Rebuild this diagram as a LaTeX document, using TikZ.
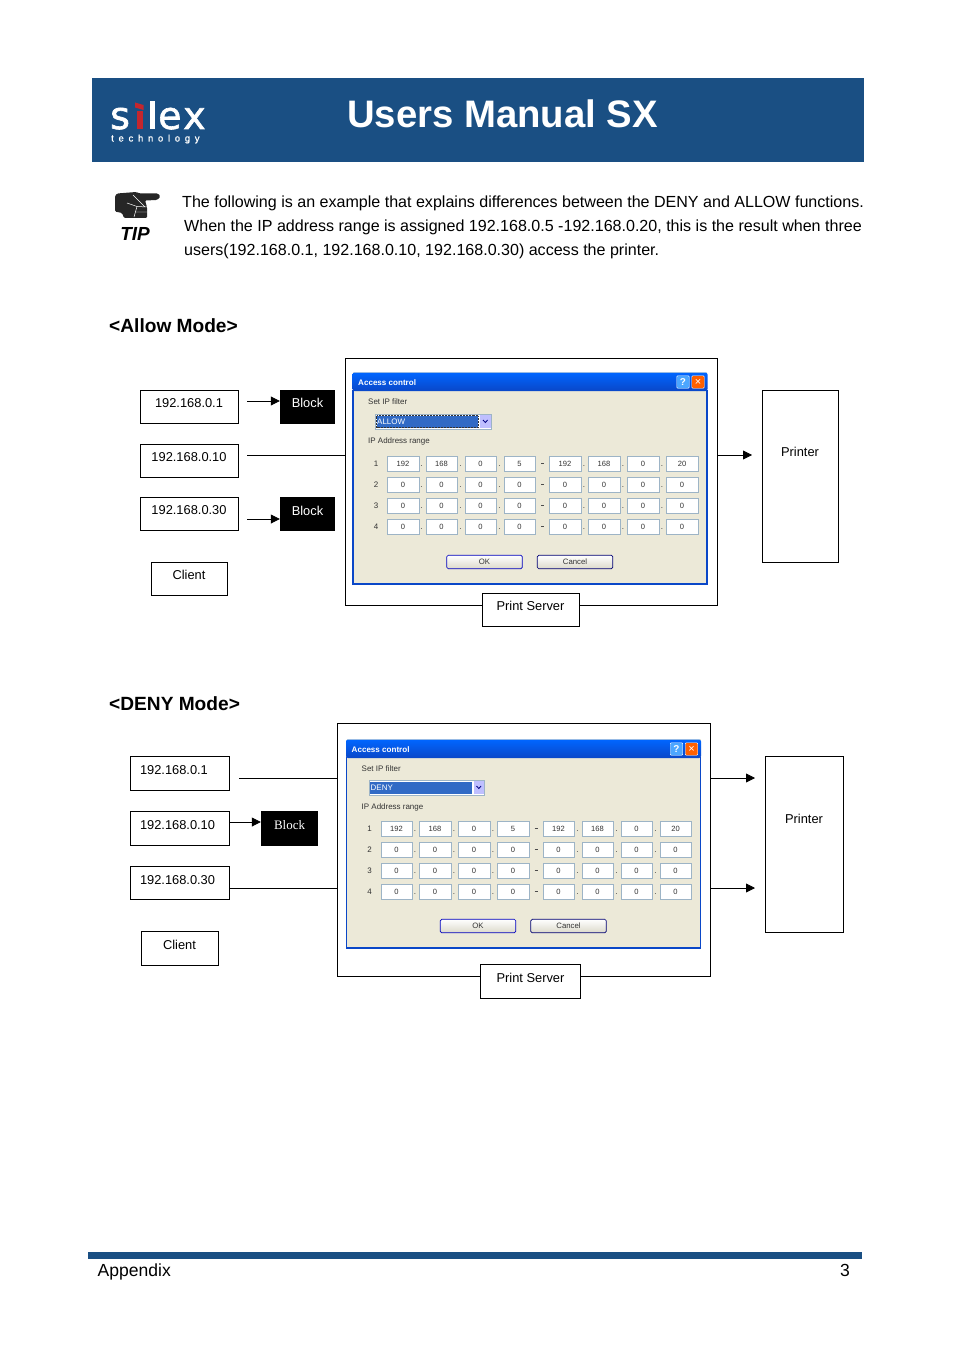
\documentclass[tikz,border=0pt]{standalone}
\usepackage{fontspec}
\setmainfont{Liberation Sans}
\newfontfamily\logofont[FakeBold=1.6]{DejaVu Sans}
\newfontfamily\logosmall[LetterSpace=50,FakeBold=0.8]{Liberation Sans}
\usetikzlibrary{arrows.meta}
\definecolor{bandblue}{HTML}{1A4F83}
\definecolor{logored}{HTML}{C4262E}
\definecolor{dlgface}{HTML}{ECE9D8}
\definecolor{dlgblue}{HTML}{0A47C8}
\definecolor{fieldline}{HTML}{9DB4C6}
\definecolor{selblue}{HTML}{316AC5}
\newcommand{\fsize}[1]{\fontsize{#1}{#1}\selectfont}
\tikzset{
  textline/.style={anchor=base west,inner sep=0pt,font=\fsize{16.12}},
  heading/.style={anchor=base west,inner sep=0pt,font=\fsize{19.2}\bfseries},
  netbox/.style={draw,fill=white,line width=0.8pt,inner sep=0pt,font=\fsize{12.9},text height=10pt,text depth=8pt},
  ipbox/.style={netbox,text width=79bp,align=left},
  blockbox/.style={fill=black,text=white,inner sep=0pt,minimum width=55bp,minimum height=34bp,font=\fsize{12.9},text height=10pt,text depth=8pt},
  link/.style={line width=0.8pt},
  flow/.style={line width=0.8pt,-{Triangle[length=9bp,width=9bp]}},
  logotext/.style={anchor=base west,inner sep=0pt,text=white,font=\logofont\fsize{38}},
  dlgtext/.style={inner sep=0pt,font=\fsize{8},text=black!80},
  ipfield/.style={draw=fieldline,fill=white,line width=0.6pt,inner sep=0pt,minimum width=31.5bp,minimum height=15.5bp,font=\fsize{7.6},text=black!80},
  dlgbutton/.style={draw=blue!45!black,rounded corners=1.5pt,line width=0.7pt,inner sep=0pt,minimum width=75.5bp,minimum height=13.5bp,font=\fsize{7.8},text=black!80,top color=white,bottom color=dlgface!85!gray}
}
\begin{document}
\begin{tikzpicture}[x=1bp,y=-1bp,line cap=butt,line join=miter]
  \useasboundingbox (0,0) rectangle (954,1351);

  % Header band and logo
  \fill[bandblue] (92,78) rectangle (864,162);
  \node[anchor=base,inner sep=0pt,text=white,font=\fsize{38.45}\bfseries] (title) at (502.5,127.5) {Users Manual SX};
  \node[logotext] (logos) at (110,129) {s};
  \fill[logored] (135,102.5) -- (143.5,105) -- (143.5,110) -- (135,107.5) -- cycle;
  \fill[logored] (137,111) rectangle (143,129);
  \fill[white] (150,101) rectangle (155,129);
  \node[logotext] (logoe) at (158,129) {e};
  \node[logotext] (logox) at (183,129) {x};
  \node[anchor=base west,inner sep=0pt,text=white,font=\logosmall\fsize{9.5}] (logot) at (111,141.5) {technology};

  % Tip hand
  \fill[black!85,rounded corners=1.2pt] (117,193.5) -- (136,192) -- (140,193.5) -- (158,193.5) -- (160.5,196.5) -- (157,200)
    -- (145,200.5) -- (147,207) -- (147,218) -- (124,218) -- (122,213) -- (115,211.5) -- (115,196) -- cycle;
  \draw[white,line width=0.5pt] (133,195) -- (145,207) (127,203) -- (137,206.5) -- (147,207) (135,212) -- (147,212) (137,206.5) -- (134,217);
  \node[anchor=base,inner sep=0pt,font=\fsize{19}\bfseries\itshape] (tip) at (135,240.5) {TIP};

  \node[textline] (line1) at (182,207.5) {The following is an example that explains differences between the DENY and ALLOW functions.};
  \node[textline] (line2) at (184,231.5) {When the IP address range is assigned 192.168.0.5 -192.168.0.20, this is the result when three};
  \node[textline] (line3) at (184,255.5) {users(192.168.0.1, 192.168.0.10, 192.168.0.30) access the printer.};

  \node[heading] (allowhead) at (109,332) {<Allow Mode>};
  \node[heading] (denyhead) at (109,710) {<DENY Mode>};

  % Allow mode
  \node[draw,line width=0.8pt,inner sep=0pt,minimum width=372bp,minimum height=247bp] (serverA) at (531,481.5) {};
  \node[netbox,minimum width=98bp,minimum height=33bp] (ipA1) at (189,406.5) {192.168.0.1};
  \node[netbox,minimum width=98bp,minimum height=33bp] (ipA2) at (189,460.5) {192.168.0.10};
  \node[netbox,minimum width=98bp,minimum height=33bp] (ipA3) at (189,513.5) {192.168.0.30};
  \node[netbox,minimum width=76bp,minimum height=33bp] (clientA) at (189,578.5) {Client};
  \node[blockbox] (blockA1) at (307.5,407) {Block};
  \node[blockbox] (blockA3) at (307.5,514) {Block};
  \node[netbox,minimum width=97bp,minimum height=33bp] (psA) at (530.5,609.5) {Print Server};
  \node[netbox,minimum width=76bp,minimum height=172bp,text depth=49pt] (printerA) at (800,476) {Printer};

  \coordinate (fromA1) at (247,401);
  \coordinate (fromA2) at (247,455);
  \coordinate (fromA3) at (247,519);
  \coordinate (toPrA) at (752,455);
  \draw[flow] (fromA1) -- (fromA1 -| blockA1.west);
  \draw[link] (fromA2) -- (fromA2 -| serverA.west);
  \draw[flow] (fromA3) -- (fromA3 -| blockA3.west);
  \draw[flow] (toPrA -| serverA.east) -- (toPrA);

  % Deny mode
  \node[draw,line width=0.8pt,inner sep=0pt,minimum width=373bp,minimum height=253bp] (serverD) at (523.5,849.5) {};
  \node[ipbox,minimum width=99bp,minimum height=34bp] (ipD1) at (179.5,773) {192.168.0.1};
  \node[ipbox,minimum width=99bp,minimum height=34bp] (ipD2) at (179.5,828) {192.168.0.10};
  \node[ipbox,minimum width=99bp,minimum height=33bp,text depth=7pt] (ipD3) at (179.5,882.5) {192.168.0.30};
  \node[netbox,minimum width=77bp,minimum height=34bp] (clientD) at (179.5,948) {Client};
  \node[blockbox,minimum width=57bp,minimum height=35bp,font=\fontspec{Liberation Serif}\fsize{13}] (blockD2) at (289.5,828.5) {Block};
  \node[netbox,minimum width=100bp,minimum height=34bp] (psD) at (530.5,981) {Print Server};
  \node[netbox,minimum width=78bp,minimum height=176bp,text depth=52pt] (printerD) at (804,844) {Printer};

  \coordinate (fromD1) at (239,778);
  \coordinate (fromD2) at (229,822);
  \coordinate (fromD3) at (229,888);
  \coordinate (toPrD1) at (755,778);
  \coordinate (toPrD3) at (755,888);
  \draw[link] (fromD1) -- (fromD1 -| serverD.west);
  \draw[flow] (fromD2) -- (fromD2 -| blockD2.west);
  \draw[link] (fromD3) -- (fromD3 -| serverD.west);
  \draw[flow] (toPrD1 -| serverD.east) -- (toPrD1);
  \draw[flow] (toPrD3 -| serverD.east) -- (toPrD3);

  % Access control windows
  \foreach \ox/\oy/\hgt/\tb/\mode in {353/372/212/0/ALLOW,346.5/737/211/2/DENY} {
    \begin{scope}[shift={(\ox,\oy)}]
      \fill[dlgface] (0,\tb) rectangle (354,\hgt);
      \draw[dlgblue,line width=1.4pt] (0,18+\tb) -- (0,\hgt) -- (354,\hgt) -- (354,18+\tb);
      \shade[top color=blue!60!cyan,bottom color=dlgblue,rounded corners=2pt] (-0.5,0.5+\tb) rectangle (354.5,19+\tb);
      \node[anchor=west,inner sep=0pt,text=white,font=\fsize{8.1}\bfseries] at (5,10.5+\tb) {Access control};
      \node[draw=white,fill=blue!50!cyan!70!white,rounded corners=1pt,inner sep=0pt,minimum size=12.5bp,text=white,font=\fsize{10}\bfseries] at (330,10+\tb) {?};
      \node[draw=white,fill=orange!75!red,rounded corners=1pt,inner sep=0pt,minimum size=12.5bp,text=white,font=\fsize{11}] at (345,10+\tb) {×};
      \node[dlgtext,anchor=west] at (15,30+\tb) {Set IP filter};
      \node[draw=fieldline,fill=white,line width=0.5pt,inner sep=0pt,minimum width=115.5bp,minimum height=15bp] (combo) at (80,49.5+\tb/2) {};
      \fill[selblue] (23.5,43.5+\tb/2) rectangle (125,55.5+\tb/2);
      \fill[blue!25] (127,43+\tb/2) rectangle (137.5,56+\tb/2);
      \draw[blue!50!black,line width=0.8pt] (130,48+\tb/2) -- (132.3,50.5+\tb/2) -- (134.6,48+\tb/2);
      \node[dlgtext,anchor=west,text=white] at (24,49.5+\tb/2) {\mode};
      \node[dlgtext,anchor=west] at (15,69.5+\tb/4) {IP Address range};
      \foreach \r/\ry in {1/92,2/113,3/134,4/155} {
        \node[dlgtext] at (23,\ry) {\r};
        \foreach \dx in {68.5,107.5,146.5,231,270,309} {
          \node[dlgtext] at (\dx,\ry+2.5) {.};
        }
        \draw[black!70,line width=0.6pt] (188,\ry-1) -- (191,\ry-1);
      }
      \foreach \fx/\val in {34/192,72.5/168,111.5/0,150.5/5,196/192,235/168,274/0,313/20} {
        \node[ipfield,anchor=west] at (\fx,92) {\val};
      }
      \foreach \ry in {113,134,155} {
        \foreach \fx in {34,72.5,111.5,150.5,196,235,274,313} {
          \node[ipfield,anchor=west] at (\fx,\ry) {0};
        }
      }
      \node[dlgbutton,draw=blue!75!black] (okbtn) at (131.5,190-\tb/2) {OK};
      \node[dlgbutton] (cancelbtn) at (222,190-\tb/2) {Cancel};
    \end{scope}
  }
  \draw[black!80,line width=0.5pt,densely dotted] (376.5,415.5) rectangle (478,427.5);

  % Footer
  \fill[bandblue] (88,1252) rectangle (862,1259);
  \node[anchor=base west,inner sep=0pt,font=\fsize{17.6}] (appendix) at (97.5,1276) {Appendix};
  \node[anchor=base east,inner sep=0pt,font=\fsize{17.6}] (pageno) at (850,1276) {3};
\end{tikzpicture}
\end{document}
